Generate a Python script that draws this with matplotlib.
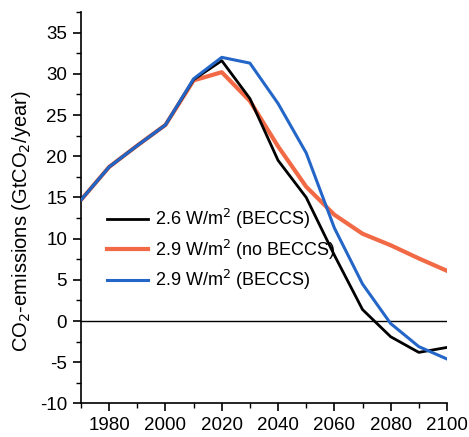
import matplotlib
matplotlib.use("Agg")
import matplotlib.pyplot as plt
from matplotlib.ticker import MultipleLocator

plt.rcParams['font.family'] = ['Liberation Sans', 'DejaVu Sans']
plt.rcParams['axes.unicode_minus'] = False

years = [1970, 1980, 1990, 2000, 2010, 2020, 2030, 2040, 2050, 2060, 2070, 2080, 2090, 2100]
beccs_26 = [14.7, 18.7, 21.3, 23.8, 29.3, 31.6, 27.0, 19.5, 15.0, 8.0, 1.4, -1.9, -3.8, -3.2]
nobeccs_29 = [14.7, 18.7, 21.3, 23.8, 29.2, 30.2, 26.7, 21.2, 16.3, 12.9, 10.6, 9.2, 7.6, 6.1]
beccs_29 = [14.7, 18.7, 21.3, 23.8, 29.4, 32.0, 31.3, 26.4, 20.4, 11.3, 4.5, -0.3, -3.1, -4.6]

labels = ['2.6 W/m$^{2}$ (BECCS)', '2.9 W/m$^{2}$ (no BECCS)', '2.9 W/m$^{2}$ (BECCS)']

fig = plt.figure(figsize=(4.69, 4.37), dpi=100)
ax = fig.add_axes([0.1727, 0.0767, 0.7803, 0.8958])

l_red, = ax.plot(years, nobeccs_29, color='#f26a45', lw=3.0, zorder=2, label=labels[1])
l_blk, = ax.plot(years, beccs_26, color='black', lw=2.0, zorder=3, label=labels[0])
l_blu, = ax.plot(years, beccs_29, color='#2366c8', lw=2.2, zorder=4, label=labels[2])
ax.axhline(0, color='black', lw=1.0, zorder=1)

ax.set_xlim(1970, 2100)
ax.set_ylim(-10, 37.5)
ax.set_xticks([1980, 2000, 2020, 2040, 2060, 2080, 2100])
ax.xaxis.set_minor_locator(MultipleLocator(10))
ax.set_yticks(range(-10, 36, 5))
ax.yaxis.set_minor_locator(MultipleLocator(2.5))
ax.tick_params(axis='both', which='major', direction='out', length=6, width=1.2, labelsize=13.5, pad=4)
ax.tick_params(axis='both', which='minor', direction='out', length=3.5, width=1.0)
for s in ['top', 'right']:
    ax.spines[s].set_visible(False)
for s in ['left', 'bottom']:
    ax.spines[s].set_linewidth(1.2)

ax.set_ylabel('CO$_2$-emissions (GtCO$_2$/year)', fontsize=14.5)
ax.yaxis.set_label_coords(-0.13, 0.466)

ax.legend([l_blk, l_red, l_blu], labels, loc='upper left', bbox_to_anchor=(0.05, 0.52),
          frameon=False, fontsize=13, handlelength=2.3, handletextpad=0.4, labelspacing=0.35,
          borderaxespad=0)

fig.savefig('out.png', dpi=100)
